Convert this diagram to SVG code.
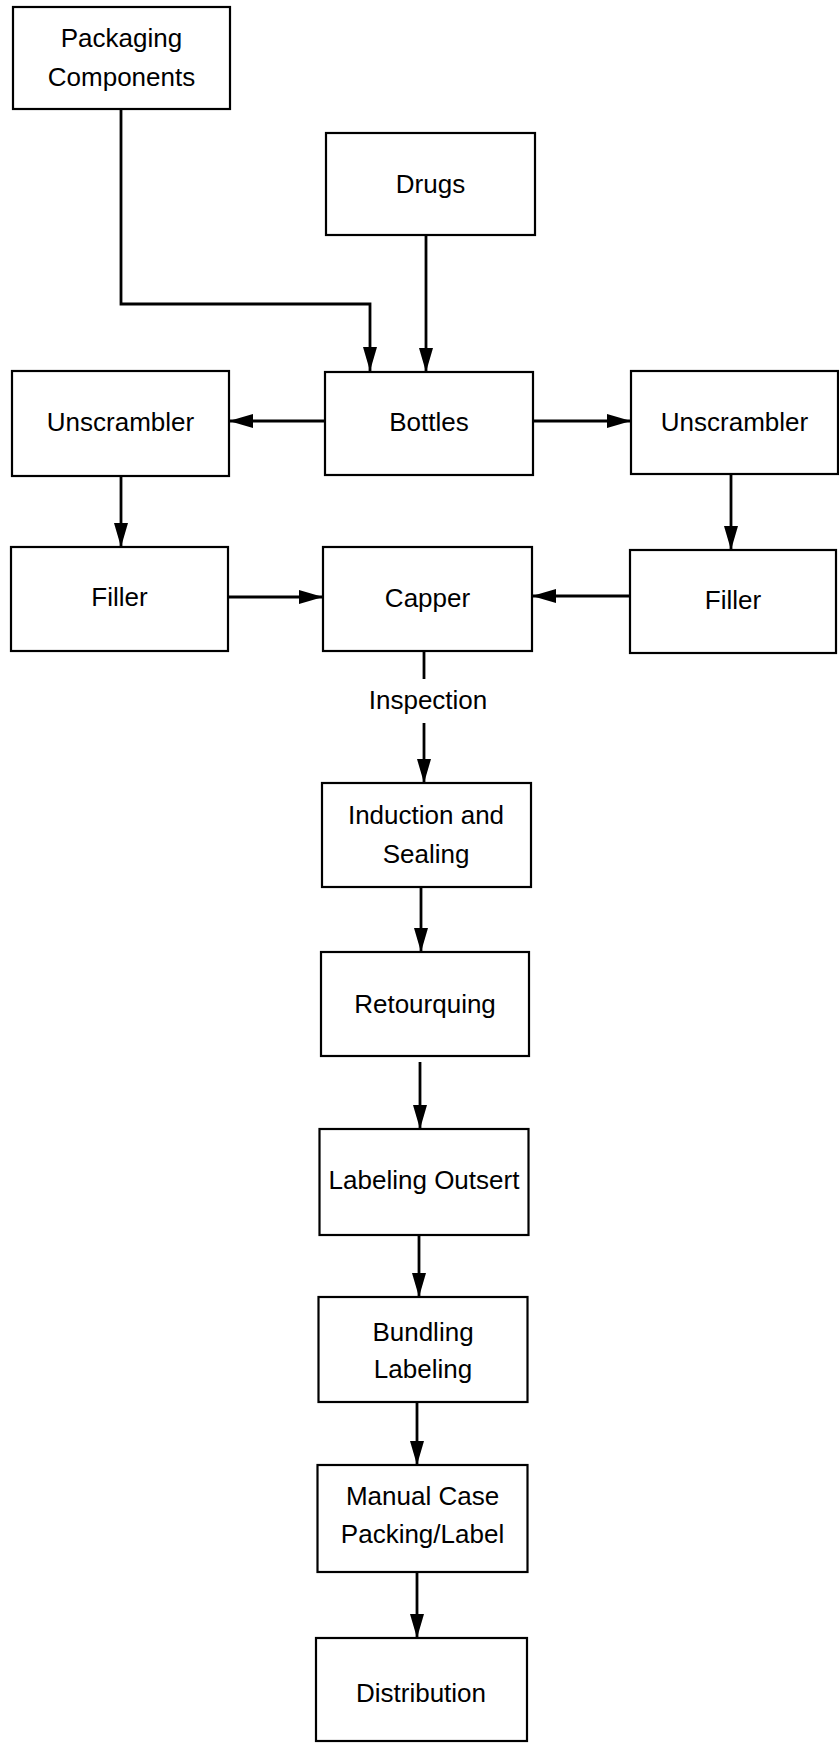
<svg xmlns="http://www.w3.org/2000/svg" width="839" height="1743" viewBox="0 0 839 1743">
<style>
.box{fill:#fff;stroke:#000;stroke-width:2.2}
.t{font-family:"Liberation Sans",Arial,sans-serif;font-size:26px;fill:#000;text-anchor:middle}
.c{fill:none;stroke:#000;stroke-width:2.8}
</style>
<defs>
<marker id="ah" viewBox="0 0 24 14" refX="24" refY="7" markerWidth="24" markerHeight="14" markerUnits="userSpaceOnUse" orient="auto">
<path d="M0,0 L24,7 L0,14 Z" fill="#000"/>
</marker>
</defs>
<rect width="839" height="1743" fill="#fff"/>
<g id="connectors">
<path class="c" d="M121,109 V304 H370 V371" marker-end="url(#ah)"/>
<path class="c" d="M426,235 V372" marker-end="url(#ah)"/>
<path class="c" d="M325,421 H229" marker-end="url(#ah)"/>
<path class="c" d="M533,421 H631" marker-end="url(#ah)"/>
<path class="c" d="M121,476 V547" marker-end="url(#ah)"/>
<path class="c" d="M731,474 V550" marker-end="url(#ah)"/>
<path class="c" d="M228,597 H323" marker-end="url(#ah)"/>
<path class="c" d="M630,596 H532" marker-end="url(#ah)"/>
<path class="c" d="M424,651 V679"/>
<path class="c" d="M424,723 V783" marker-end="url(#ah)"/>
<text class="t" x="428" y="709">Inspection</text>
<path class="c" d="M421,887 V952" marker-end="url(#ah)"/>
<path class="c" d="M420,1062 V1129" marker-end="url(#ah)"/>
<path class="c" d="M419,1235 V1297" marker-end="url(#ah)"/>
<path class="c" d="M417,1402 V1465" marker-end="url(#ah)"/>
<path class="c" d="M417,1572 V1638" marker-end="url(#ah)"/>
</g>
<g id="packaging-components">
<rect class="box" x="13" y="7" width="217" height="102"/>
<text class="t" x="121.5" y="47">Packaging</text>
<text class="t" x="121.5" y="86">Components</text>
</g>
<g id="drugs">
<rect class="box" x="326" y="133" width="209" height="102"/>
<text class="t" x="430.5" y="193">Drugs</text>
</g>
<g id="bottles">
<rect class="box" x="325" y="372" width="208" height="103"/>
<text class="t" x="429" y="431">Bottles</text>
</g>
<g id="unscrambler-left">
<rect class="box" x="12" y="371" width="217" height="105"/>
<text class="t" x="120.5" y="431">Unscrambler</text>
</g>
<g id="unscrambler-right">
<rect class="box" x="631" y="371" width="207" height="103"/>
<text class="t" x="734.5" y="431">Unscrambler</text>
</g>
<g id="filler-left">
<rect class="box" x="11" y="547" width="217" height="104"/>
<text class="t" x="119.5" y="606">Filler</text>
</g>
<g id="capper">
<rect class="box" x="323" y="547" width="209" height="104"/>
<text class="t" x="427.5" y="607">Capper</text>
</g>
<g id="filler-right">
<rect class="box" x="630" y="550" width="206" height="103"/>
<text class="t" x="733" y="609">Filler</text>
</g>
<g id="induction-sealing">
<rect class="box" x="322" y="783" width="209" height="104"/>
<text class="t" x="426" y="824">Induction and</text>
<text class="t" x="426" y="863">Sealing</text>
</g>
<g id="retourquing">
<rect class="box" x="321" y="952" width="208" height="104"/>
<text class="t" x="425" y="1013">Retourquing</text>
</g>
<g id="labeling-outsert">
<rect class="box" x="319.5" y="1129" width="209" height="106"/>
<text class="t" x="424" y="1189">Labeling Outsert</text>
</g>
<g id="bundling-labeling">
<rect class="box" x="318.5" y="1297" width="209" height="105"/>
<text class="t" x="423" y="1341">Bundling</text>
<text class="t" x="423" y="1378">Labeling</text>
</g>
<g id="manual-case-packing">
<rect class="box" x="317.5" y="1465" width="210" height="107"/>
<text class="t" x="422.5" y="1505">Manual Case</text>
<text class="t" x="422.5" y="1543">Packing/Label</text>
</g>
<g id="distribution">
<rect class="box" x="316" y="1638" width="211" height="103"/>
<text class="t" x="421" y="1702">Distribution</text>
</g>
</svg>
